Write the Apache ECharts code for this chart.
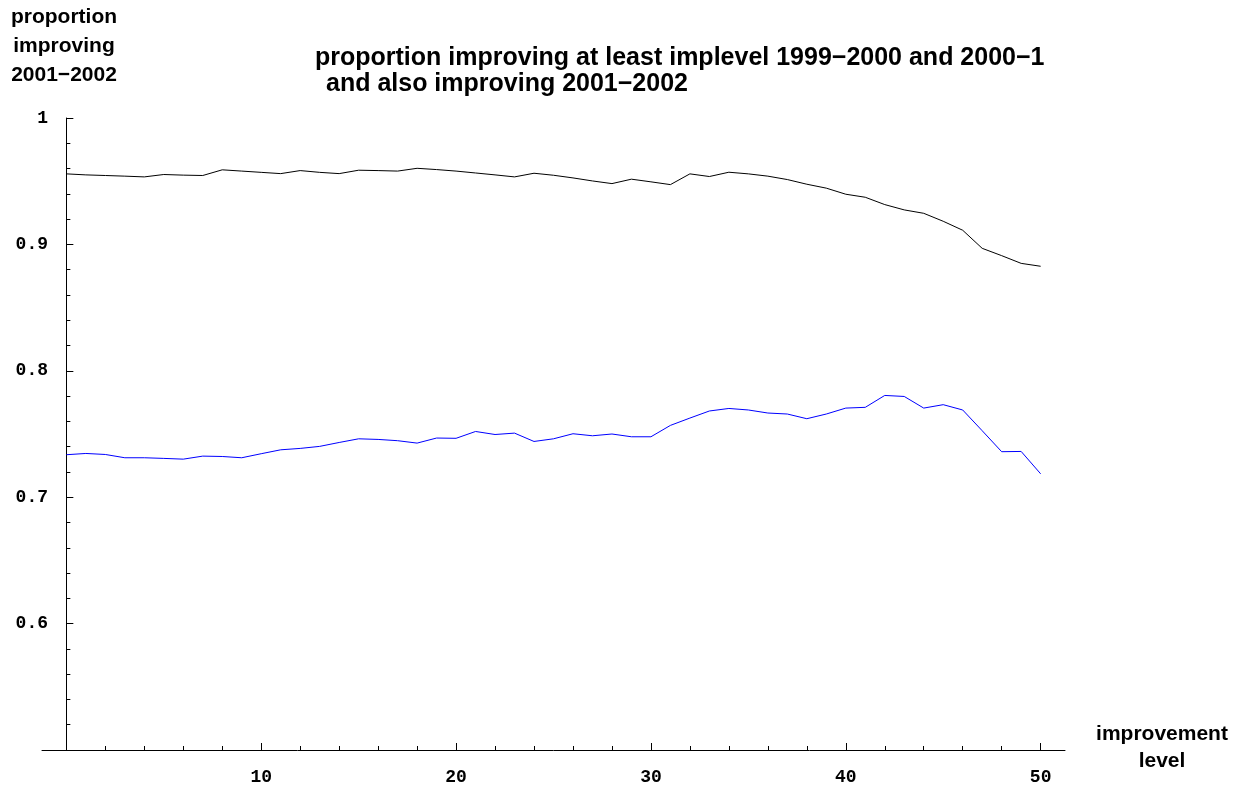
<!DOCTYPE html>
<html>
<head>
<meta charset="utf-8">
<script src="https://cdn.jsdelivr.net/npm/echarts@6/dist/echarts.min.js"></script>
<style>
  html, body { margin: 0; padding: 0; background: #fff; }
  #container { width: 1244px; height: 787px; }
</style>
</head>
<body>
<div id="container"></div>
<script>
var levels = [0, 1, 2, 3, 4, 5, 6, 7, 8, 9, 10, 11, 12, 13, 14, 15, 16, 17, 18, 19, 20,
    21, 22, 23, 24, 25, 26, 27, 28, 29, 30, 31, 32, 33, 34, 35, 36, 37, 38, 39, 40,
    41, 42, 43, 44, 45, 46, 47, 48, 49, 50];

// black curve
var upperCurve = [0.9558, 0.955, 0.9545, 0.954, 0.9534, 0.9553, 0.9548, 0.9545, 0.959, 0.958, 0.957,
    0.956, 0.9584, 0.957, 0.956, 0.9587, 0.9584, 0.958, 0.9602, 0.9592, 0.958,
    0.9565, 0.955, 0.9534, 0.9563, 0.9547, 0.9526, 0.9502, 0.9481, 0.9516, 0.9495,
    0.9473, 0.9558, 0.9537, 0.9571, 0.9558, 0.954, 0.9513, 0.9476, 0.9445, 0.9397,
    0.9373, 0.9315, 0.9273, 0.9246, 0.9183, 0.9112, 0.8969, 0.8911, 0.885, 0.8827];

// blue curve
var lowerCurve = [0.7336, 0.7346, 0.7338, 0.7312, 0.7312, 0.7307, 0.7301, 0.7325, 0.7322, 0.7312, 0.7344,
    0.7375, 0.7386, 0.7402, 0.7433, 0.7462, 0.7457, 0.7447, 0.7428, 0.7468, 0.7466,
    0.752, 0.7496, 0.7507, 0.7441, 0.7462, 0.7502, 0.7486, 0.75, 0.7478, 0.7478,
    0.7568, 0.7626, 0.7682, 0.7702, 0.769, 0.7666, 0.7658, 0.7621, 0.7658, 0.7705,
    0.7711, 0.7805, 0.7797, 0.7705, 0.7732, 0.769, 0.7526, 0.736, 0.7362, 0.7185];

var xMajor = [10, 20, 30, 40, 50];
var xMinor = [2, 4, 6, 8, 12, 14, 16, 18, 22, 24, 26, 28, 32, 34, 36, 38, 42, 44, 46, 48];

var titleLines = ['proportion improving at least implevel 1999\u22122000 and 2000\u22121',
    'and also improving 2001\u22122002'];
var yName = 'proportion\nimproving\n2001\u22122002';
var xName = 'improvement\nlevel';

var myChart = echarts.init(document.getElementById('container'));

function pairs(ys) {
    return levels.map(function (x, i) { return [x, ys[i]]; });
}

var tickFont = { fontFamily: 'Liberation Mono', fontWeight: 'bold', fontSize: 18, color: '#000' };
var axisBlack = { color: '#000', width: 1 };

var option = {
    animation: false,
    backgroundColor: '#fff',
    grid: { left: 42, right: 179, top: 118, bottom: 37, outerBoundsMode: 'none', containLabel: false },
    xAxis: [
        {
            type: 'value',
            min: -1.25,
            max: 51.25,
            position: 'bottom',
            axisLine: { show: true, lineStyle: axisBlack },
            axisTick: { show: true, inside: true, length: 7, customValues: xMajor, lineStyle: axisBlack },
            axisLabel: Object.assign({ customValues: xMajor, margin: 18 }, tickFont),
            splitLine: { show: false }
        },
        {
            // minor ticks only
            type: 'value',
            min: -1.25,
            max: 51.25,
            position: 'bottom',
            axisLine: { show: false },
            axisTick: { show: true, inside: true, length: 4, customValues: xMinor, lineStyle: axisBlack },
            axisLabel: { show: false },
            splitLine: { show: false }
        }
    ],
    yAxis: {
        type: 'value',
        min: 0.5,
        max: 1,
        interval: 0.1,
        axisLine: { show: true, onZero: true, onZeroAxisIndex: 0, lineStyle: axisBlack },
        axisTick: { show: true, inside: true, length: 7, lineStyle: axisBlack },
        minorTick: { show: true, splitNumber: 5, length: 4, lineStyle: axisBlack },
        axisLabel: Object.assign({
            margin: -6,
            formatter: function (v) {
                if (Math.abs(v - 0.5) < 1e-6) return '';
                if (Math.abs(v - 1) < 1e-6) return '1';
                return v.toFixed(1);
            }
        }, tickFont),
        splitLine: { show: false },
        minorSplitLine: { show: false }
    },
    graphic: [
        { type: 'text', left: 315, top: 46, style: { text: titleLines[0], font: 'bold 25px "Liberation Sans"', fill: '#000' } },
        { type: 'text', left: 326, top: 72, style: { text: titleLines[1], font: 'bold 25px "Liberation Sans"', fill: '#000' } },
        { type: 'text', x: 64, y: 3, style: { text: yName, font: 'bold 21px "Liberation Sans"', fill: '#000', align: 'center', lineHeight: 29 } },
        { type: 'text', x: 1162, y: 721, style: { text: xName, font: 'bold 21px "Liberation Sans"', fill: '#000', align: 'center', lineHeight: 27 } }
    ],
    series: [
        {
            type: 'line',
            data: pairs(upperCurve),
            showSymbol: false,
            lineStyle: { color: '#000', width: 1 },
            itemStyle: { color: '#000' }
        },
        {
            type: 'line',
            data: pairs(lowerCurve),
            showSymbol: false,
            lineStyle: { color: '#0000ff', width: 1 },
            itemStyle: { color: '#0000ff' }
        }
    ]
};
myChart.setOption(option);
</script>
</body>
</html>
